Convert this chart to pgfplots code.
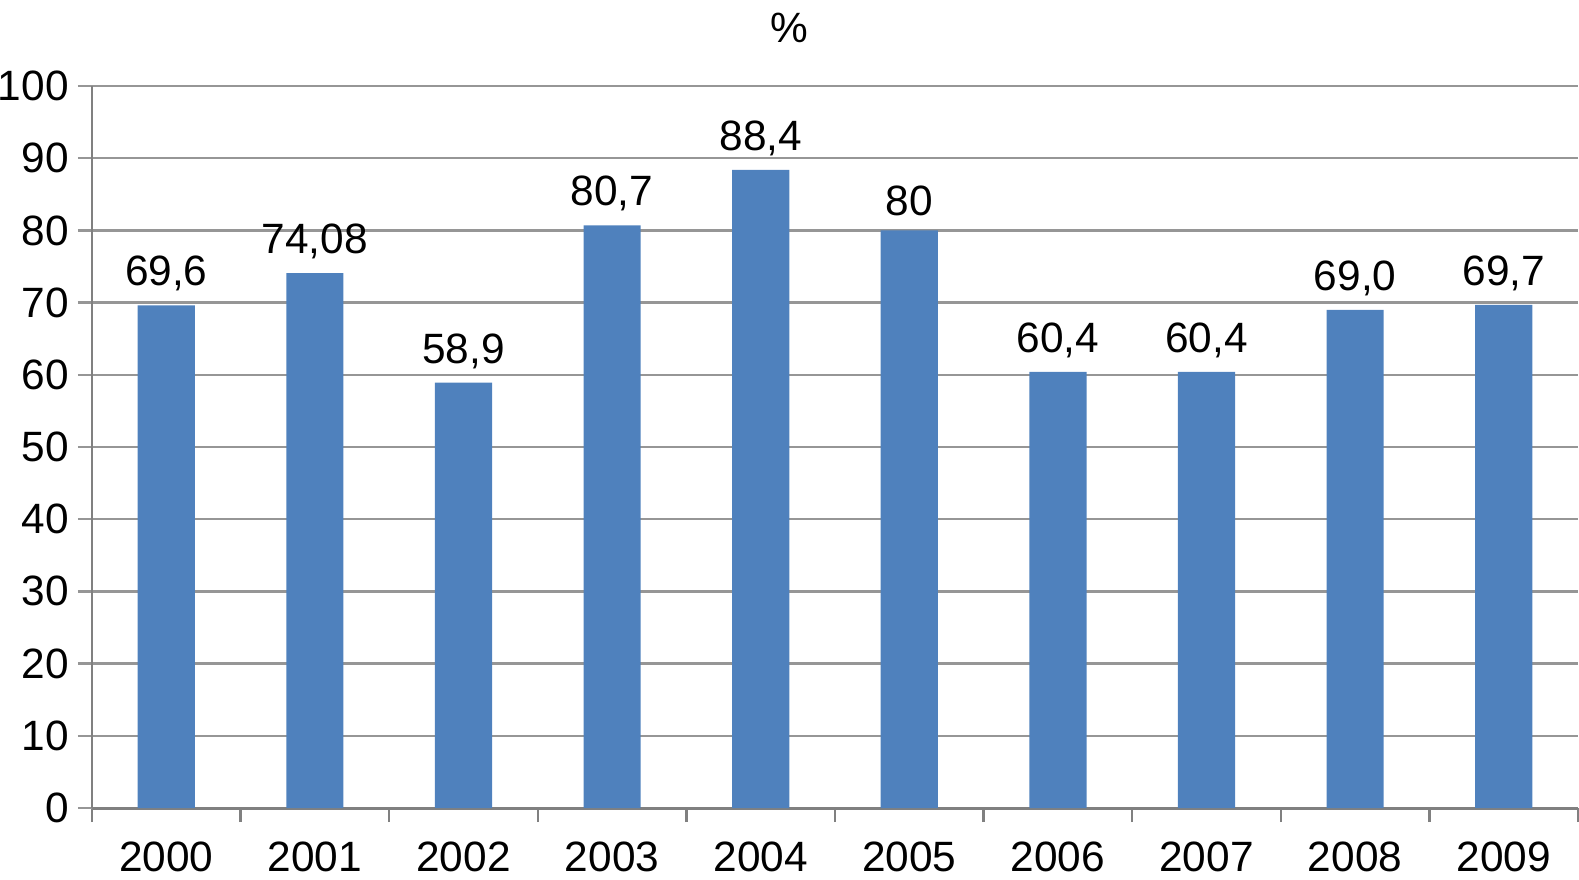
\documentclass[border=0pt]{standalone}
\usepackage{pgfplots}
\pgfplotsset{compat=1.18}
\usepackage{pgfplotstable}
\usepackage{fontspec}
\setmainfont{Liberation Sans}
\definecolor{barblue}{RGB}{79,129,189}
\definecolor{gridgray}{RGB}{150,150,150}
\definecolor{axgray}{RGB}{128,128,128}
\pgfplotstableread{
x y lab
0 69.6 69,6
1 74.08 74,08
2 58.9 58,9
3 80.7 80,7
4 88.4 88,4
5 80 80
6 60.4 60,4
7 60.4 60,4
8 69.0 69,0
9 69.7 69,7
}\data
\begin{document}
\begin{tikzpicture}
\begin{axis}[
  scale only axis, width=371.5pt, height=180.5pt,
  xmin=-0.5, xmax=9.5, ymin=0, ymax=100,
  axis x line*=bottom, axis y line*=left,
  x axis line style={axgray, line width=0.75pt, -},
  y axis line style={axgray, line width=0.4pt, -},
  ytick={0,10,...,100},
  ymajorgrids, grid style={gridgray, line width=0.6pt},
  tick align=outside, major tick length=3.5pt,
  ytick style={draw=gridgray, line width=0.6pt},
  xtick={-0.5,0.5,...,9.5}, xticklabels={},
  xtick style={draw=axgray, line width=0.6pt},
  extra x ticks={0,1,...,9},
  extra x tick labels={2000,2001,2002,2003,2004,2005,2006,2007,2008,2009},
  extra x tick style={major tick length=0pt, grid=none, xtick style={draw=none}},
  /pgf/number format/assume math mode=true,
  ticklabel style={font=\fontsize{10.6}{12.7}\selectfont, text=black},
  xticklabel style={yshift=-5pt},
  yticklabel style={xshift=1.2pt},
  clip=false,
  nodes near coords,
  point meta=explicit symbolic,
  every node near coord/.append style={font=\fontsize{10.6}{12.7}\selectfont, text=black},
]
\addplot[ybar, bar width=14.3pt, fill=barblue, draw=none] table[x=x, y=y, meta=lab] {\data};
\node[font=\fontsize{10.6}{12.7}\selectfont] at (axis description cs:0.469,1) [yshift=14.5pt] {\%};
\end{axis}
\pgfresetboundingbox
\path (-23pt,-18pt) rectangle (371.75pt,202pt);
\end{tikzpicture}
\end{document}
